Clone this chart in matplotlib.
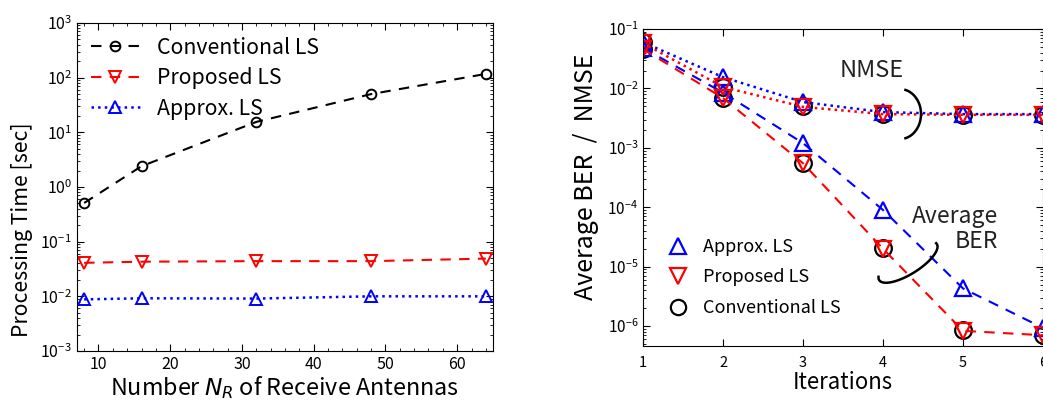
import numpy as np
import matplotlib
matplotlib.use("Agg")
import matplotlib.pyplot as plt
from matplotlib.ticker import MultipleLocator, LogLocator, NullFormatter, FixedLocator

plt.rcParams['font.family'] = ['Noto Sans CJK JP', 'DejaVu Sans']
plt.rcParams['mathtext.fontset'] = 'dejavusans'

# left panel: processing time vs number of receive antennas
n_rx = [8, 16, 32, 48, 64]
t_conv = [0.51, 2.4, 15.5, 50, 117]
t_prop = [0.041, 0.043, 0.044, 0.044, 0.049]
t_approx = [0.0088, 0.0092, 0.0091, 0.0100, 0.0100]

# right panel: BER / NMSE vs iterations
iters = [1, 2, 3, 4, 5, 6]
nmse_approx = [0.060, 0.0155, 0.0059, 0.0040, 0.0037, 0.0037]
nmse_prop = [0.058, 0.0106, 0.0049, 0.0037, 0.0036, 0.0036]
nmse_conv = [0.060, 0.0107, 0.0050, 0.0037, 0.0036, 0.0036]
ber_approx = [0.048, 0.0085, 0.0012, 9.0e-5, 4.3e-6, 9.3e-7]
ber_prop = [0.046, 0.0069, 5.5e-4, 2.0e-5, 8.3e-7, 7.0e-7]
ber_conv = [0.047, 0.0070, 5.6e-4, 2.1e-5, 8.5e-7, 7.0e-7]

fig = plt.figure(figsize=(10.43, 4.01), dpi=100)

# ---------- left
ax1 = fig.add_axes([0.0738, 0.1247, 0.3989, 0.818])
ax1.plot(n_rx, t_conv, 'k--', marker='o', mfc='none', ms=7, mew=1.4, lw=1.5,
         dashes=(5, 4), label='Conventional LS')
ax1.plot(n_rx, t_prop, 'r--', marker='v', mfc='none', ms=9, mew=1.4, lw=1.5,
         dashes=(5, 4), label='Proposed LS')
ax1.plot(n_rx, t_approx, 'b:', marker='^', mfc='none', ms=9, mew=1.4, lw=1.8,
         label='Approx. LS')
ax1.set_yscale('log')
ax1.set_ylim(1e-3, 1e3)
ax1.set_xlim(7, 65)
ax1.xaxis.set_major_locator(MultipleLocator(10))
ax1.xaxis.set_minor_locator(MultipleLocator(2))
ax1.yaxis.set_major_locator(LogLocator(base=10, numticks=10))
ax1.yaxis.set_minor_locator(LogLocator(base=10, subs=np.arange(2, 10), numticks=20))
ax1.yaxis.set_minor_formatter(NullFormatter())
ax1.tick_params(which='both', direction='in', top=True, right=True, labelsize=11.5)
ax1.tick_params(which='major', length=5)
ax1.tick_params(which='minor', length=2.5)
ax1.set_xlabel('Number $\\boldsymbol{N_R}$ of Receive Antennas', fontsize=16.8, labelpad=1)
ax1.set_ylabel('Processing Time [sec]', fontsize=15.3)
ax1.yaxis.set_label_coords(-0.105, 0.37)
ax1.legend(loc='upper left', frameon=False, fontsize=15.3, handlelength=2.3,
           borderaxespad=0.25, labelspacing=0.4)

# ---------- right
ax2 = fig.add_axes([0.6165, 0.137, 0.3835, 0.7905])
ax2.plot(iters, nmse_approx, 'b:', marker='^', mfc='none', ms=11, mew=1.6, lw=1.8)
ax2.plot(iters, nmse_prop, 'r:', marker='v', mfc='none', ms=11, mew=1.6, lw=1.8)
ax2.plot(iters, nmse_conv, 'ko', mfc='none', ms=12, mew=1.6, zorder=1)
ax2.plot(iters, ber_approx, 'b--', marker='^', mfc='none', ms=11, mew=1.6, lw=1.5,
         dashes=(5, 4))
ax2.plot(iters, ber_prop, 'r--', marker='v', mfc='none', ms=11, mew=1.6, lw=1.5,
         dashes=(5, 4))
ax2.plot(iters, ber_conv, 'ko', mfc='none', ms=12, mew=1.6, zorder=1)
ax2.set_yscale('log')
ax2.set_ylim(4.6e-7, 1e-1)
ax2.set_xlim(1, 6)
ax2.xaxis.set_major_locator(FixedLocator(iters))
ax2.yaxis.set_major_locator(LogLocator(base=10, numticks=10))
ax2.yaxis.set_minor_locator(LogLocator(base=10, subs=np.arange(2, 10), numticks=20))
ax2.yaxis.set_minor_formatter(NullFormatter())
ax2.tick_params(which='both', direction='in', top=True, right=True, labelsize=11)
ax2.tick_params(axis='x', labelsize=10.5, pad=7)
ax2.tick_params(which='major', length=5)
ax2.tick_params(which='minor', length=2.5)
ax2.set_xlabel('Iterations', fontsize=16, labelpad=1)
ax2.set_ylabel('Average BER  /  NMSE', fontsize=18)
ax2.yaxis.set_label_coords(-0.11, 0.535)

h_a, = ax2.plot([], [], 'b^', mfc='none', ms=11, mew=1.6, label='Approx. LS')
h_p, = ax2.plot([], [], 'rv', mfc='none', ms=11, mew=1.6, label='Proposed LS')
h_c, = ax2.plot([], [], 'ko', mfc='none', ms=11, mew=1.6, label='Conventional LS')
ax2.legend(handles=[h_a, h_p, h_c], loc='lower left', frameon=False, fontsize=13,
           handlelength=1.2, labelspacing=0.7, bbox_to_anchor=(0.02, 0.04))

ax2.text(0.5725, 0.87, 'NMSE', transform=ax2.transAxes, fontsize=17, ha='center',
         va='center', color='#222222')
ax2.text(0.8875, 0.37, 'Average\nBER', transform=ax2.transAxes, fontsize=16.5,
         ha='right', va='center', color='#222222', linespacing=1.1)


# arcs drawn in pixel space of the reference, mapped to axes fraction
def px_to_axes(xp, yp):
    return (np.asarray(xp) - 643) / 400.0, (346 - np.asarray(yp)) / 317.0


th = np.radians(np.linspace(-75, 75, 60))
xa, ya = px_to_axes(900 + 21 * np.cos(th), 114 - 25 * np.sin(th))
ax2.plot(xa, ya, 'k-', lw=1.8, transform=ax2.transAxes, clip_on=False)

th = np.radians(np.linspace(165, 365, 80))
rot = np.radians(32)
ex, ey = 34 * np.cos(th), 12 * np.sin(th)
xr = 908 + ex * np.cos(rot) - ey * np.sin(rot)
yr = 262 - (ex * np.sin(rot) + ey * np.cos(rot))
xa, ya = px_to_axes(xr, yr)
ax2.plot(xa, ya, 'k-', lw=1.8, transform=ax2.transAxes, clip_on=False)

fig.savefig('out.png', dpi=100)
